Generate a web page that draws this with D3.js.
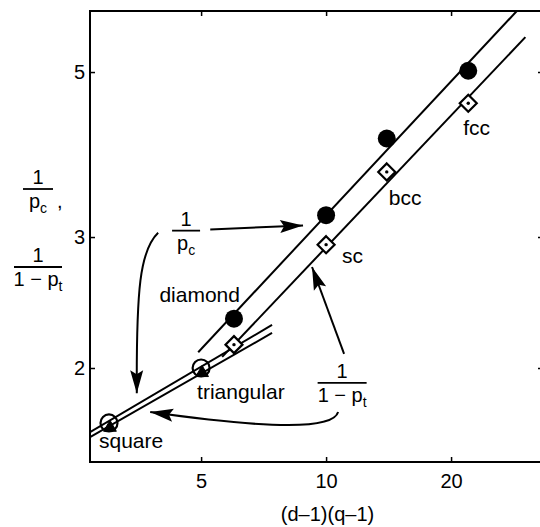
<!DOCTYPE html>
<html>
<head>
<meta charset="utf-8">
<script src="https://cdn.jsdelivr.net/npm/d3@7"></script>
<style>
  body { margin: 0; background: #fff; }
  text { font-family: "Liberation Sans", Arial, Helvetica, sans-serif; fill: #000; }
</style>
</head>
<body>
<svg id="chart"></svg>
<script>
// lattices and thresholds
var lattices = ["square", "triangular", "diamond", "sc", "bcc", "fcc"];
var dims = [2, 2, 3, 3, 3, 3];
var dq = [3, 5, 6, 10, 14, 22];              // (d-1)(q-1)
var invPc = [1.687, 2.0, 2.33, 3.21, 4.07, 5.02];   // 1/p_c
var invPt = [1.663, 1.97, 2.15, 2.93, 3.67, 4.54];  // 1/(1-p_t)

// straight fits (log-log), endpoints [x, y]
var pcLine = [[4.92, 2.10], [28.8, 6.04]];
var ptLine = [[5.62, 2.07], [30.2, 5.57]];
var lowLineA = [[2.70, 1.64], [7.41, 2.285]];
var lowLineB = [[2.70, 1.615], [7.41, 2.229]];

// annotation arrows, in data units
var arrowPc = [[5.26, 3.07], [8.80, 3.11]];
var curvePc = [[3.94, 3.04], [3.56, 2.88], [3.49, 2.55], [3.50, 1.85]];
var arrowPt = [[11.05, 2.089], [9.25, 2.734]];
var curvePt = [[10.69, 1.745], [10.40, 1.651], [7.33, 1.656], [3.77, 1.745]];
var fracPc = [4.60, 3.06];
var fracPt = [10.93, 1.91];

var xTicks = [5, 10, 20];
var yTicks = [2, 3, 5];
var xDomain = [2.7, 33.3];
var yDomain = [1.495, 6.04];

var width = 540, height = 527;
var margin = { top: 11, right: -3, bottom: 65, left: 90 };

var svg = d3.select("#chart")
  .attr("width", width)
  .attr("height", height);

var x = d3.scaleLog().domain(xDomain).range([margin.left, width - margin.right]);
var y = d3.scaleLog().domain(yDomain).range([height - margin.bottom, margin.top]);

var x0 = margin.left, x1 = width - margin.right;
var y0 = height - margin.bottom, y1 = margin.top;

svg.append("clipPath").attr("id", "plot")
  .append("rect")
  .attr("x", x0).attr("y", y1)
  .attr("width", x1 - x0).attr("height", y0 - y1);

// axes with inward ticks
function styleAxis(g) {
  g.select(".domain").remove();
  g.selectAll(".tick line").attr("stroke", "#000").attr("stroke-width", 1.5);
  g.selectAll(".tick text").style("font-size", "20px").attr("fill", "#000");
}

svg.append("g")
  .attr("transform", "translate(0," + y0 + ")")
  .call(d3.axisBottom(x).tickValues(xTicks).tickSize(-5).tickPadding(12).tickFormat(d3.format("d")))
  .call(styleAxis);
svg.append("g")
  .attr("transform", "translate(0," + y1 + ")")
  .call(d3.axisTop(x).tickValues(xTicks).tickSize(-5).tickFormat(""))
  .call(styleAxis);
svg.append("g")
  .attr("transform", "translate(" + x0 + ",0)")
  .call(d3.axisLeft(y).tickValues(yTicks).tickSize(-5).tickPadding(5).tickFormat(d3.format("d")))
  .call(styleAxis);
svg.append("g")
  .attr("transform", "translate(" + x1 + ",0)")
  .call(d3.axisRight(y).tickValues(yTicks).tickSize(-5).tickFormat(""))
  .call(styleAxis);

svg.append("rect")
  .attr("x", x0).attr("y", y1)
  .attr("width", x1 - x0).attr("height", y0 - y1)
  .attr("fill", "none").attr("stroke", "#000").attr("stroke-width", 2);

// fit lines
var line = d3.line().x(function(d) { return x(d[0]); }).y(function(d) { return y(d[1]); });
var lines = svg.append("g").attr("clip-path", "url(#plot)");
[pcLine, ptLine, lowLineA, lowLineB].forEach(function(l) {
  lines.append("path").attr("d", line(l))
    .attr("fill", "none").attr("stroke", "#000").attr("stroke-width", 2);
});

// markers
var pts = lattices.map(function(name, i) {
  return { name: name, dim: dims[i], x: dq[i], pc: invPc[i], pt: invPt[i] };
});
var marks = svg.append("g");

pts.forEach(function(d) {
  var cx = x(d.x);
  if (d.dim === 3) {
    var py = y(d.pt), h = 8.5;
    marks.append("path")
      .attr("d", "M" + cx + "," + (py - h) + "L" + (cx + h) + "," + py + "L" + cx + "," + (py + h) + "L" + (cx - h) + "," + py + "Z")
      .attr("fill", "#fff").attr("stroke", "#000").attr("stroke-width", 2.2);
    marks.append("circle").attr("cx", cx).attr("cy", py).attr("r", 1.7).attr("fill", "#000");
    marks.append("circle").attr("cx", cx).attr("cy", y(d.pc)).attr("r", 9).attr("fill", "#000");
  } else {
    marks.append("path")
      .attr("transform", "translate(" + (cx + 1) + "," + y(d.pt) + ")")
      .attr("d", d3.symbol(d3.symbolTriangle, 70)())
      .attr("fill", "#000").attr("stroke", "#000").attr("stroke-width", 1);
    marks.append("circle").attr("cx", cx).attr("cy", y(d.pc)).attr("r", 8.5)
      .attr("fill", "none").attr("stroke", "#000").attr("stroke-width", 2.2);
  }
});

// lattice labels
var labelPos = {
  square:     { ref: "pc", dx: -10, dy: 25, anchor: "start" },
  triangular: { ref: "pc", dx: -4,  dy: 31, anchor: "start" },
  diamond:    { ref: "pc", dx: 6,   dy: -17, anchor: "end" },
  sc:         { ref: "pt", dx: 16,  dy: 18, anchor: "start" },
  bcc:        { ref: "pt", dx: 2,   dy: 33, anchor: "start" },
  fcc:        { ref: "pt", dx: -5,  dy: 32, anchor: "start" }
};
pts.forEach(function(d) {
  var p = labelPos[d.name];
  svg.append("text")
    .attr("x", x(d.x) + p.dx)
    .attr("y", y(d[p.ref]) + p.dy)
    .attr("text-anchor", p.anchor)
    .style("font-size", "21px")
    .text(d.name);
});

// fraction helper
function fraction(cx, cy, half, sub, prefix) {
  var g = svg.append("g");
  g.append("line").attr("x1", cx - half).attr("x2", cx + half)
    .attr("y1", cy).attr("y2", cy).attr("stroke", "#000").attr("stroke-width", 1.8);
  g.append("text").attr("x", cx).attr("y", cy - 5)
    .attr("text-anchor", "middle").style("font-size", "20px").text("1");
  var t = g.append("text").attr("x", cx).attr("y", cy + 19)
    .attr("text-anchor", "middle").style("font-size", "20px");
  t.append("tspan").text(prefix + "p");
  t.append("tspan").attr("dy", 5).style("font-size", "14px").text(sub);
  return g;
}

// axis titles
fraction(38, 189, 15, "c", "");
svg.append("text").attr("x", 57).attr("y", 208).style("font-size", "20px").text(",");
fraction(38, 267, 24, "t", "1 \u2212 ");
svg.append("text")
  .attr("x", (x0 + x1) / 2 + 11)
  .attr("y", 521)
  .attr("text-anchor", "middle")
  .style("font-size", "20px")
  .text("(d\u20131)(q\u20131)");

// in-plot annotations
fraction(x(fracPc[0]), y(fracPc[1]), 14, "c", "");
fraction(x(fracPt[0]), y(fracPt[1]), 24.5, "t", "1 \u2212 ");

function px(p) { return [x(p[0]), y(p[1])]; }

function arrowHead(tip, from) {
  var a = Math.atan2(tip[1] - from[1], tip[0] - from[0]);
  var ux = Math.cos(a), uy = Math.sin(a), nx = -uy, ny = ux;
  var len = 23, half = 6.5, notch = 4;
  var bx = tip[0] - len * ux, by = tip[1] - len * uy;
  svg.append("path")
    .attr("d", "M" + tip[0] + "," + tip[1] +
      "L" + (bx + half * nx) + "," + (by + half * ny) +
      "L" + (tip[0] - (len - notch) * ux) + "," + (tip[1] - (len - notch) * uy) +
      "L" + (bx - half * nx) + "," + (by - half * ny) + "Z")
    .attr("fill", "#000");
}

function straightArrow(pair) {
  var a = px(pair[0]), b = px(pair[1]);
  svg.append("path").attr("d", "M" + a + "L" + b)
    .attr("fill", "none").attr("stroke", "#000").attr("stroke-width", 2);
  arrowHead(b, a);
}

function curvedArrow(c) {
  var p = c.map(px);
  svg.append("path")
    .attr("d", "M" + p[0] + "C" + p[1] + " " + p[2] + " " + p[3])
    .attr("fill", "none").attr("stroke", "#000").attr("stroke-width", 2);
  arrowHead(p[3], p[2]);
}

straightArrow(arrowPc);
curvedArrow(curvePc);
straightArrow(arrowPt);
curvedArrow(curvePt);
</script>
</body>
</html>
